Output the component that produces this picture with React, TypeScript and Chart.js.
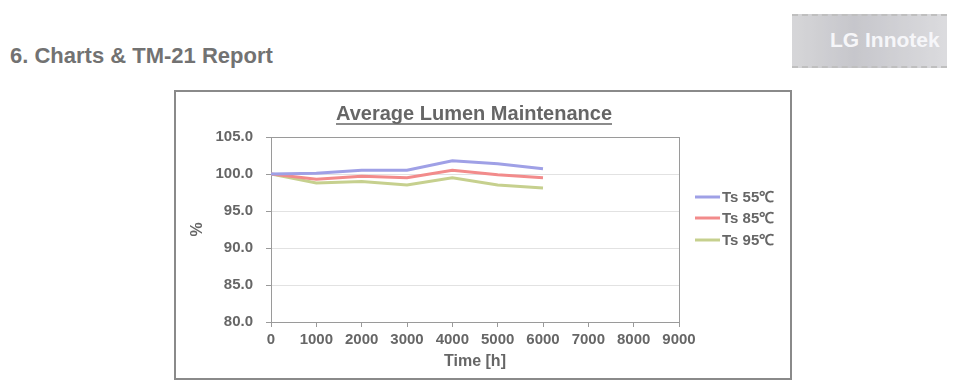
import React, { useEffect, useRef } from "react";
import { Chart, registerables } from "chart.js";

Chart.register(...registerables);

const hours = [0, 1000, 2000, 3000, 4000, 5000, 6000];
const ts55 = [100.0, 100.1, 100.5, 100.5, 101.8, 101.4, 100.7];
const ts85 = [100.0, 99.3, 99.7, 99.5, 100.5, 99.9, 99.5];
const ts95 = [100.0, 98.8, 99.0, 98.5, 99.5, 98.5, 98.1];
const seriesNames = ["Ts 55\u2103", "Ts 85\u2103", "Ts 95\u2103"];
const seriesColors = ["#9fa0e6", "#f28b8b", "#c6d08e"];
const chartTitle = "Average Lumen Maintenance";
const xTitle = "Time [h]";
const yTitle = "%";
const heading = "6. Charts & TM-21 Report";

const FONT = "'Liberation Sans', Arial, sans-serif";

const decorPlugin = {
  id: "decor",
  beforeDatasetsDraw(chart: any) {
    const { ctx, chartArea } = chart;
    ctx.save();
    ctx.strokeStyle = "#9a9a9a";
    ctx.lineWidth = 1;
    ctx.strokeRect(
      Math.round(chartArea.left) + 0.5,
      Math.round(chartArea.top) + 0.5,
      Math.round(chartArea.right - chartArea.left),
      Math.round(chartArea.bottom - chartArea.top)
    );
    ctx.restore();
  },
  afterDraw(chart: any) {
    const { ctx, chartArea } = chart;
    ctx.save();
    ctx.font = `bold 20px ${FONT}`;
    ctx.fillStyle = "#666666";
    ctx.textAlign = "center";
    ctx.textBaseline = "middle";
    const cx = (chartArea.left + chartArea.right) / 2 - 1;
    const ty = 22;
    ctx.fillText(chartTitle, cx, ty);
    const w = ctx.measureText(chartTitle).width;
    ctx.strokeStyle = "#666666";
    ctx.lineWidth = 1.5;
    ctx.beginPath();
    ctx.moveTo(cx - w / 2, ty + 10);
    ctx.lineTo(cx + w / 2, ty + 10);
    ctx.stroke();
    const lx = chartArea.right + 16;
    const ys = [105, 126, 148];
    chart.data.datasets.forEach((ds: any, i: number) => {
      const y = ys[i];
      ctx.strokeStyle = ds.borderColor;
      ctx.lineWidth = 3;
      ctx.beginPath();
      ctx.moveTo(lx, y);
      ctx.lineTo(lx + 25, y);
      ctx.stroke();
      ctx.fillStyle = "#666666";
      ctx.font = `bold 15px ${FONT}`;
      ctx.textAlign = "left";
      ctx.fillText(ds.label, lx + 27, y + 1);
    });
    ctx.restore();
  },
};

export default function App() {
  const ref = useRef<HTMLCanvasElement>(null);
  useEffect(() => {
    if (!ref.current) return;
    const mk = (vals: number[]) => hours.map((h, i) => ({ x: h, y: vals[i] }));
    const chart = new Chart(ref.current, {
      type: "line",
      data: {
        datasets: [ts55, ts85, ts95].map((vals, i) => ({
          label: seriesNames[i],
          data: mk(vals),
          borderColor: seriesColors[i],
          backgroundColor: seriesColors[i],
          borderWidth: 3,
          pointRadius: 0,
          tension: 0,
        })),
      },
      options: {
        animation: false,
        responsive: false,
        layout: { padding: { left: 0, top: 45, right: 111, bottom: 0 } },
        plugins: { legend: { display: false }, title: { display: false }, tooltip: { enabled: false } },
        scales: {
          x: {
            type: "linear",
            min: 0,
            max: 9000,
            afterFit: (s: any) => { s.height = 56; },
            ticks: {
              stepSize: 1000,
              padding: 4,
              color: "#666666",
              font: { family: FONT, size: 15, weight: "bold" },
              callback: (v: any) => String(v),
              maxRotation: 0,
            },
            grid: { drawOnChartArea: false, drawTicks: true, tickLength: 5, color: "#9a9a9a" },
            border: { color: "#9a9a9a" },
            title: {
              display: true,
              text: xTitle,
              color: "#666666",
              font: { family: FONT, size: 16, weight: "bold" },
              padding: { top: 0, bottom: 7 },
            },
          },
          y: {
            min: 80,
            max: 105,
            afterFit: (s: any) => { s.width = 95; },
            ticks: {
              stepSize: 5,
              padding: 13,
              color: "#666666",
              font: { family: FONT, size: 15, weight: "bold" },
              callback: (v: any) => Number(v).toFixed(1),
            },
            grid: { color: "#e2e2e2", tickLength: 5, tickColor: "#9a9a9a" },
            border: { color: "#9a9a9a" },
            title: {
              display: true,
              text: yTitle,
              color: "#666666",
              font: { family: FONT, size: 16, weight: "bold" },
              padding: { top: 12, bottom: 0 },
            },
          },
        },
      },
      plugins: [decorPlugin],
    });
    return () => chart.destroy();
  }, []);

  return (
    <div style={{ position: "absolute", left: 0, top: 0, width: 960, height: 392, background: "#fff", overflow: "hidden", fontFamily: FONT }}>
      <div style={{ position: "absolute", left: 10, top: 43, fontSize: 22, lineHeight: "25px", fontWeight: "bold", color: "#727272", whiteSpace: "nowrap" }}>
        {heading}
      </div>
      <div style={{ position: "absolute", left: 792, top: 14, width: 155, height: 50, background: "linear-gradient(90deg, #c9c9cc, #b4b4bb 40%, #d0d0d4)", opacity: 0.75, borderTop: "2px dashed #aaa", borderBottom: "2px dashed #aaa" }}>
        <div style={{ position: "absolute", left: 38, top: 12, fontSize: 21, fontWeight: "bold", color: "#f4f4f8", whiteSpace: "nowrap" }}>LG Innotek</div>
      </div>
      <div style={{ position: "absolute", left: 174, top: 90, width: 614, height: 286, border: "2px solid #8a8a8a" }}>
        <canvas ref={ref} width={614} height={286} style={{ display: "block", width: 614, height: 286 }} />
      </div>
    </div>
  );
}
